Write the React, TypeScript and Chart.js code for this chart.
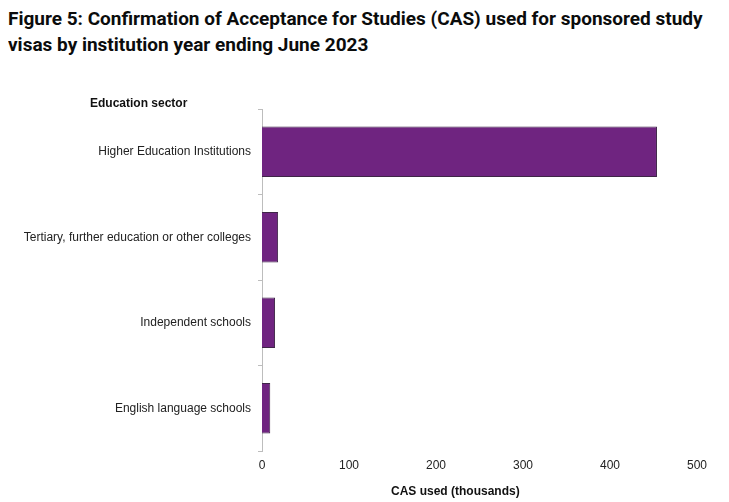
import React, { useEffect, useRef } from "react";
import { Chart, registerables } from "chart.js";

Chart.register(...registerables);

const categories = [
  "Higher Education Institutions",
  "Tertiary, further education or other colleges",
  "Independent schools",
  "English language schools",
];
const casUsed = [454, 18.5, 15, 9.5];
const xTicks = [0, 100, 200, 300, 400, 500];

export default function App() {
  const ref = useRef<HTMLCanvasElement | null>(null);

  useEffect(() => {
    if (!ref.current) return;
    const chart = new Chart(ref.current, {
      type: "bar",
      data: {
        labels: categories,
        datasets: [
          {
            data: casUsed,
            backgroundColor: "#6f2480",
            borderColor: "#3e2647",
            borderWidth: 1,
            barPercentage: 0.59,
            categoryPercentage: 1,
          },
        ],
      },
      options: {
        indexAxis: "y",
        animation: false,
        responsive: false,
        maintainAspectRatio: false,
        layout: { padding: { top: 48, right: 24, left: 0, bottom: 0 } },
        plugins: { legend: { display: false }, tooltip: { enabled: false } },
        scales: {
          x: {
            min: 0,
            max: 500,
            afterBuildTicks: (s: any) => {
              s.ticks = xTicks.map((v) => ({ value: v }));
            },
            afterFit: (s: any) => {
              s.height = 40;
            },
            grid: { display: false, drawTicks: false },
            border: { display: false },
            ticks: {
              padding: 7,
              color: "#222",
              font: { family: "Arial, 'Liberation Sans'", size: 12 },
            },
          },
          y: {
            afterFit: (s: any) => {
              s.width = 254;
            },
            grid: {
              display: true,
              drawOnChartArea: false,
              drawTicks: true,
              tickLength: 4,
              color: "#bdbdbd",
              offset: true,
            },
            border: { display: true, color: "#bdbdbd" },
            ticks: {
              padding: 7,
              color: "#222",
              font: { family: "Arial, 'Liberation Sans'", size: 12 },
            },
          },
        },
      },
    });
    return () => chart.destroy();
  }, []);

  return (
    <div style={{ position: "relative", width: 713, height: 490 }}>
      <div
        style={{
          position: "absolute",
          left: 0,
          top: -2,
          width: 713,
          fontFamily: "Roboto, 'Noto Sans', Arial, sans-serif",
          fontWeight: 700,
          fontSize: 19,
          lineHeight: "26px",
          color: "#0b0c0c",
        }}
      >
        Figure 5: Confirmation of Acceptance for Studies (CAS) used for sponsored study visas by institution year ending June 2023
      </div>
      <canvas
        ref={ref}
        width={713}
        height={430}
        style={{ position: "absolute", left: 0, top: 53, width: 713, height: 430 }}
      />
      <div
        style={{
          position: "absolute",
          left: 82,
          top: 88,
          fontFamily: "Arial, 'Liberation Sans', sans-serif",
          fontWeight: 700,
          fontSize: 12,
          lineHeight: "14px",
          color: "#111",
        }}
      >
        Education sector
      </div>
      <div
        style={{
          position: "absolute",
          left: 383,
          top: 476,
          fontFamily: "Arial, 'Liberation Sans', sans-serif",
          fontWeight: 700,
          fontSize: 12,
          lineHeight: "14px",
          color: "#111",
        }}
      >
        CAS used (thousands)
      </div>
    </div>
  );
}
